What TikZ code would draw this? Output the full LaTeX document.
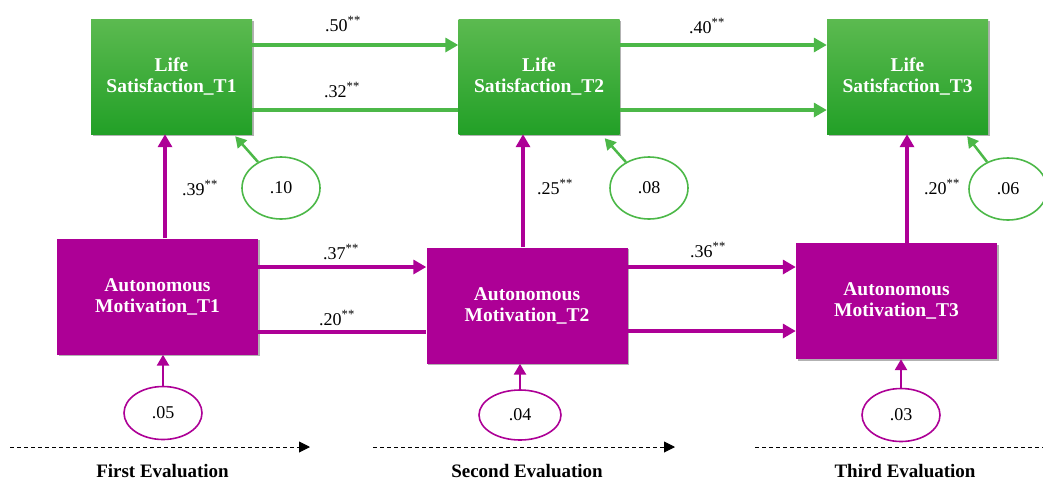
\documentclass[tikz,border=0pt]{standalone}
\usepackage{fontspec}
\setmainfont{Liberation Serif}
\usetikzlibrary{arrows.meta,shadows,shapes.geometric}
\definecolor{lsgreen}{HTML}{4CB848}
\definecolor{gtop}{HTML}{5CBA50}
\definecolor{gbot}{HTML}{22A027}
\definecolor{amag}{HTML}{AD0096}
\tikzset{
  boxbase/.style={rectangle, inner sep=0pt, align=center, text=white,
    font=\fontsize{19.5}{21}\selectfont\bfseries,
    drop shadow={shadow xshift=1.5pt, shadow yshift=-1.5pt, opacity=0.3, fill=black}},
  lsbox/.style={boxbase, minimum width=161pt, minimum height=115pt, top color=gtop, bottom color=gbot},
  ambox/.style={boxbase, minimum width=201pt, minimum height=116pt, fill=amag},
  coef/.style={inner sep=0pt, font=\fontsize{18}{20}\selectfont},
  gerr/.style={ellipse, draw=lsgreen, line width=1.6pt, fill=white, inner sep=0pt, minimum width=78pt, minimum height=62pt, font=\fontsize{18}{20}\selectfont},
  merr/.style={ellipse, draw=amag, line width=1.6pt, fill=white, inner sep=0pt, minimum width=78pt, minimum height=53pt, font=\fontsize{18}{20}\selectfont},
  garrow/.style={draw=lsgreen, line width=4pt, -{Triangle[length=13pt,width=14pt]}},
  gline/.style={draw=lsgreen, line width=4pt},
  marrow/.style={draw=amag, line width=4pt, -{Triangle[length=13pt,width=14pt]}},
  mline/.style={draw=amag, line width=4pt},
  gsmall/.style={draw=lsgreen, line width=2.5pt, -{Triangle[length=11pt,width=12pt]}},
  msmall/.style={draw=amag, line width=2.5pt, -{Triangle[length=11pt,width=12pt]}},
  timeline/.style={draw=black, line width=0.9pt, dash pattern=on 4pt off 3pt},
  timetip/.style={-{Triangle[length=11pt,width=11pt]}},
  evlabel/.style={inner sep=0pt, font=\fontsize{19}{21}\selectfont\bfseries}
}
\begin{document}
\begin{tikzpicture}[x=1pt,y=-1pt]
\useasboundingbox (0,0) rectangle (1043,480);

% boxes
\node[lsbox] (ls1) at (171.5,76.5) {Life\\Satisfaction\_T1};
\node[lsbox] (ls2) at (539,76.5) {Life\\Satisfaction\_T2};
\node[lsbox] (ls3) at (907.5,76.5) {Life\\Satisfaction\_T3};
\node[ambox] (am1) at (157.5,296.5) {Autonomous\\Motivation\_T1};
\node[ambox] (am2) at (527,305.5) {Autonomous\\Motivation\_T2};
\node[ambox] (am3) at (896.5,301) {Autonomous\\Motivation\_T3};

% helper coordinates
\coordinate (hA) at (0,45);
\coordinate (hB) at (0,110);
\coordinate (hC) at (0,267);
\coordinate (hD) at (0,332);
\coordinate (hE) at (0,331);
\coordinate (vA) at (165,0);
\coordinate (vB) at (523,0);
\coordinate (vC) at (907,0);

% horizontal paths
\draw[garrow] (ls1.east |- hA) -- (ls2.west |- hA);
\draw[gline] (ls1.east |- hB) -- (ls2.west |- hB);
\draw[garrow] (ls2.east |- hA) -- (ls3.west |- hA);
\draw[garrow] (ls2.east |- hB) -- (ls3.west |- hB);
\draw[marrow] (am1.east |- hC) -- (am2.west |- hC);
\draw[mline] (am1.east |- hD) -- (am2.west |- hD);
\draw[marrow] (am2.east |- hC) -- (am3.west |- hC);
\draw[marrow] (am2.east |- hE) -- (am3.west |- hE);

% vertical paths
\draw[marrow] (am1.north -| vA) -- (ls1.south -| vA);
\draw[marrow] (am2.north -| vB) -- (ls2.south -| vB);
\draw[marrow] (am3.north -| vC) -- (ls3.south -| vC);

% coefficients
\node[coef] (c50) at (343,24) {.50\textsuperscript{**}};
\node[coef] (c32) at (342,90) {.32\textsuperscript{**}};
\node[coef] (c40) at (707,26) {.40\textsuperscript{**}};
\node[coef] (c37) at (341,252) {.37\textsuperscript{**}};
\node[coef] (c20a) at (337,318) {.20\textsuperscript{**}};
\node[coef] (c36) at (708,250) {.36\textsuperscript{**}};
\node[coef] (c39) at (200,188) {.39\textsuperscript{**}};
\node[coef] (c25) at (555,187) {.25\textsuperscript{**}};
\node[coef] (c20b) at (942,187) {.20\textsuperscript{**}};

% error terms
\node[gerr] (e10) at (281,188) {.10};
\node[gerr] (e08) at (649,188) {.08};
\node[gerr] (e06) at (1008,189) {.06};
\node[merr] (e05) at (163,413) {.05};
\node[merr, minimum width=82pt, minimum height=50pt] (e04) at (520,415) {.04};
\node[merr] (e03) at (901,415) {.03};

\draw[gsmall] (e10) -- ([xshift=-17pt,yshift=-2pt]ls1.south east);
\draw[gsmall] (e08) -- ([xshift=-15pt,yshift=-4pt]ls2.south east);
\draw[gsmall] (e06) -- ([xshift=-21pt,yshift=-2pt]ls3.south east);
\draw[msmall] (e05) -- (e05 |- am1.south);
\draw[msmall] (e04) -- (e04 |- am2.south);
\draw[msmall] (e03) -- (e03 |- am3.south);

% timeline
\coordinate (t1a) at (10,447);
\coordinate (t1b) at (310,447);
\coordinate (t2a) at (373,447);
\coordinate (t2b) at (675,447);
\coordinate (t3a) at (755,447);
\coordinate (t3b) at (1043,447);
\draw[timeline, timetip] (t1a) -- (t1b);
\draw[timeline, timetip] (t2a) -- (t2b);
\draw[timeline] (t3a) -- (t3b);

\node[evlabel] (ev1) at (162.5,471) {First Evaluation};
\node[evlabel] (ev2) at (527,471) {Second Evaluation};
\node[evlabel] (ev3) at (905,471) {Third Evaluation};
\end{tikzpicture}
\end{document}
